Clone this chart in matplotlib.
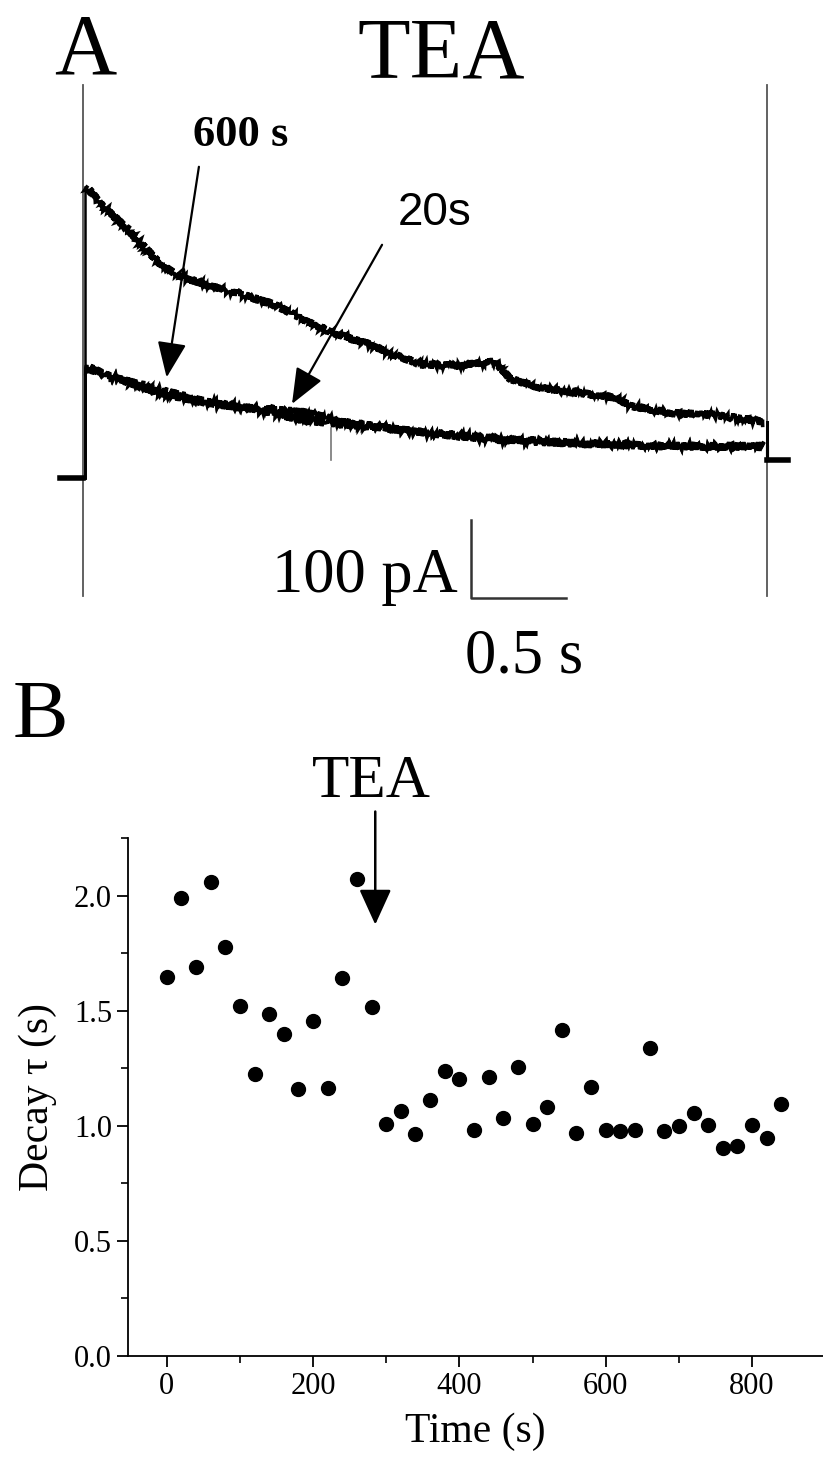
import matplotlib
matplotlib.use("Agg")
from matplotlib import pyplot as plt
from matplotlib.ticker import MultipleLocator, FormatStrFormatter

plt.rcParams['font.family'] = ['Liberation Serif', 'DejaVu Serif']

# ---- panel A: current traces (time in s, current in pA) ----
trace_t = [0.02, 0.10, 0.25, 0.40, 0.50, 0.67, 0.84, 1.00, 1.14, 1.31, 1.50,
           1.67, 1.78, 1.95, 2.17, 2.25, 2.42, 2.61, 2.78, 2.89, 3.11, 3.33, 3.58]
trace_upper = [373, 350, 315, 276, 260, 246, 235, 223, 206, 186, 172,
               155, 146, 144, 149, 127, 115, 109, 104, 92, 83, 81, 72]

low_t = [0.02, 0.12, 0.28, 0.42, 0.62, 0.81, 1.00, 1.17, 1.36, 1.64, 1.92,
         2.20, 2.61, 3.03, 3.58]
trace_600s = [141, 132, 121, 112, 100, 92, 83, 74, 69, 63, 55, 49, 44, 41, 41]
trace_20s = [143, 133, 119, 108, 98, 91, 88, 84, 73, 62, 56, 50, 45, 41, 40]

pulse_start = 0.0
pulse_end = 3.6
hold_after = 23

# ---- panel B: decay time constant ----
time_s = list(range(0, 841, 20))
decay_tau = [1.645, 1.99, 1.69, 2.06, 1.775, 1.52, 1.225, 1.485, 1.40, 1.16,
             1.455, 1.165, 1.64, 2.07, 1.515, 1.01, 1.065, 0.965, 1.11, 1.24,
             1.205, 0.98, 1.21, 1.035, 1.255, 1.01, 1.08, 1.415, 0.97, 1.17,
             0.98, 0.977, 0.98, 1.34, 0.977, 1.0, 1.057, 1.003, 0.905, 0.912,
             1.005, 0.948, 1.093]
tea_time = 285

fig = plt.figure(figsize=(8.23, 14.63), dpi=100)

# ===== Panel A =====
axa = fig.add_axes([0, 0.5215, 1, 0.4785])
axa.set_xlim(-0.437, 3.895)
axa.set_ylim(-284.6, 612.8)
axa.axis('off')

# stimulus artefacts
axa.plot([pulse_start, pulse_start], [-151, 504], color='#555555', lw=1.3)
axa.plot([pulse_end, pulse_end], [-151, 504], color='#555555', lw=1.3)
axa.plot([1.305, 1.305], [23, 64], color='#777777', lw=1.2)

# holding current before / after the step
axa.plot([-0.12, pulse_start], [0, 0], color='black', lw=4)
axa.plot([pulse_end, pulse_end + 0.11], [hold_after, hold_after],
         color='black', lw=4)

def trace(t, i):
    axa.plot([pulse_start + 0.01, pulse_start + 0.01], [0, i[0]],
             color='black', lw=1.8)
    axa.plot([pulse_end, pulse_end], [hold_after, i[-1]], color='black', lw=2.2)
    ln, = axa.plot(t, i, color='black', lw=2.6, solid_joinstyle='miter')
    ln.set_sketch_params(4.0, 2.5, 2.0)

trace(trace_t, trace_upper)
trace(low_t, trace_600s)
trace(low_t, trace_20s)

# scale bar
axa.plot([2.042, 2.042, 2.542], [-54, -154, -154], color='#333333', lw=1.8)
axa.text(1.975, -146, '100 pA', fontsize=45, ha='right', va='baseline')
axa.text(2.32, -249, '0.5 s', fontsize=45, ha='center', va='baseline')

axa.text(0.01, 519, 'A', fontsize=62, ha='center', va='baseline')
axa.text(1.884, 513, 'TEA', fontsize=62, ha='center', va='baseline')

arrow = dict(arrowstyle='-|>,head_length=1.1,head_width=0.45', color='black',
             lw=1.6, mutation_scale=20, shrinkA=0, shrinkB=0)
axa.text(0.83, 425, '600 s', fontsize=32, fontweight='bold', ha='center',
         va='baseline')
axa.annotate('', xy=(0.44, 129), xytext=(0.61, 399), arrowprops=arrow)
axa.text(1.85, 340, '20s', fontsize=33, family='Liberation Sans', ha='center',
         va='center')
axa.annotate('', xy=(1.10, 95), xytext=(1.574, 299), arrowprops=arrow)

# ===== Panel B =====
axb = fig.add_axes([0.1555, 0.0731, 0.8445, 0.3541])
axb.plot(time_s, decay_tau, 'o', color='black', markersize=10)
axb.set_xlim(-53, 897)
axb.set_ylim(0, 2.25)
axb.spines['top'].set_visible(False)
axb.spines['right'].set_visible(False)
axb.spines['left'].set_linewidth(1.3)
axb.spines['bottom'].set_linewidth(1.3)
axb.xaxis.set_major_locator(MultipleLocator(200))
axb.xaxis.set_minor_locator(MultipleLocator(100))
axb.yaxis.set_major_locator(MultipleLocator(0.5))
axb.yaxis.set_minor_locator(MultipleLocator(0.25))
axb.yaxis.set_major_formatter(FormatStrFormatter('%.1f'))
axb.tick_params(which='major', length=8, width=1.3, labelsize=22)
axb.tick_params(which='minor', length=5, width=1.2)
axb.set_xlabel('Time (s)', fontsize=30, labelpad=8)
axb.set_ylabel('Decay τ (s)', fontsize=30, labelpad=12)

axb.annotate('', xy=(tea_time, 1.874), xytext=(tea_time, 2.365),
             arrowprops=dict(arrowstyle='-|>,head_length=1.1,head_width=0.5',
                             color='black', lw=1.8, mutation_scale=20,
                             shrinkA=0, shrinkB=0),
             annotation_clip=False)
axb.text(tea_time - 5, 2.49, 'TEA', fontsize=44, ha='center', va='center')
fig.text(0.0486, 0.5095, 'B', fontsize=60, ha='center', va='center')

fig.savefig('out.png', dpi=100)
